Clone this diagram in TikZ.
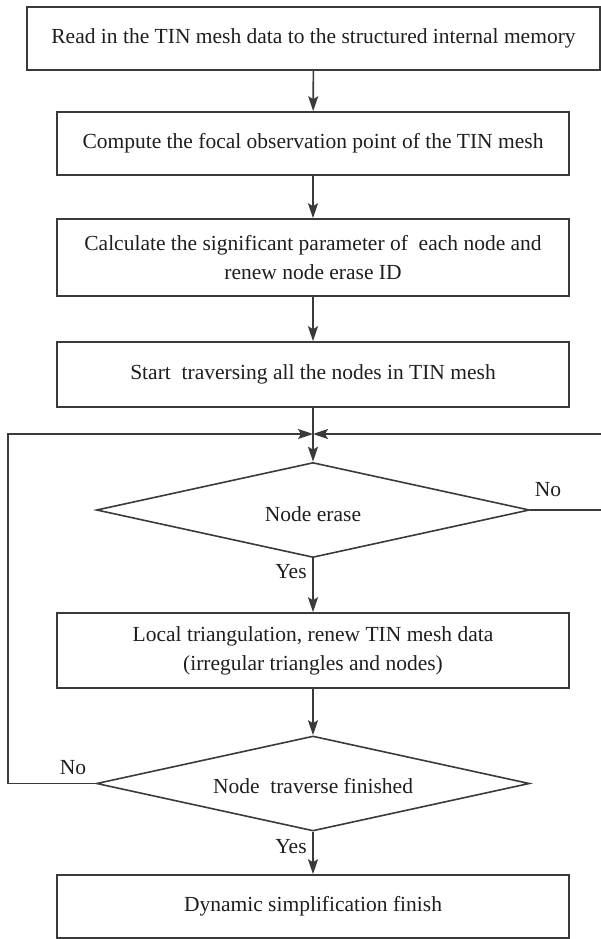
\documentclass[tikz,border=0pt]{standalone}
\usepackage{fontspec}
\setmainfont{Liberation Serif}
\usetikzlibrary{shapes.geometric,arrows.meta}
\definecolor{ink}{HTML}{3A3A3A}
\definecolor{txt}{HTML}{1E1E1E}
\begin{document}
\begin{tikzpicture}[x=1pt,y=-1pt,
  every node/.style={font=\fontsize{21.5}{29}\selectfont, text=txt},
  stepbox/.style={draw=ink, line width=1.6pt, rectangle, inner sep=0pt, align=center, minimum width=512pt},
  decision/.style={draw=ink, line width=1.6pt, diamond, aspect=4.5, inner sep=0pt,
                   minimum width=433pt, minimum height=95pt},
  flow/.style={draw=ink, line width=1.6pt, -{Stealth[length=15pt,width=10pt,inset=3pt]}},
  tag/.style={inner sep=0pt, anchor=base}]
\useasboundingbox (0,0) rectangle (601,939);

% process steps
\node[stepbox, minimum width=573pt, minimum height=63pt] (read) at (313.5,38.5)
  {Read in the TIN mesh data to the structured internal memory};
\node[stepbox, minimum height=63pt] (focal) at (313,143.5)
  {Compute the focal observation point of the TIN mesh};
\node[stepbox, minimum height=77pt] (param) at (313,257.5)
  {Calculate the significant parameter of \ each node and\\ renew node erase ID};
\node[stepbox, minimum height=65pt] (start) at (313,374.5)
  {Start \ traversing all the nodes in TIN mesh};
\node[decision] (erase) at (313,510) {};
\node at (313,514) {Node erase};
\node[stepbox, minimum height=75pt] (local) at (313,650.5)
  {Local triangulation, renew TIN mesh data\\ (irregular triangles and nodes)};
\node[decision] (done) at (313,783.5) {};
\node at (313,786) {Node \ traverse finished};
\node[stepbox, minimum height=63pt] (finish) at (313,906.5)
  {Dynamic simplification finish};

% loop-back junction
\coordinate (merge) at (313,434);
\coordinate (lft) at (8,434);
\coordinate (rgt) at (602.5,434);

% main flow
\draw[flow] (read) -- (focal);
\draw[flow] (focal) -- (param);
\draw[flow] (param) -- (start);
\draw[flow] (start) -- (erase);
\draw[flow] (erase) -- (local);
\draw[flow] (local) -- (done);
\draw[flow] (done) -- (finish);

% return branches
\draw[flow] (done.west) -| (lft) -- (merge);
\draw[flow] (erase.east) -| (rgt) -- (merge);

% branch labels
\node[tag] at (548,496) {No};
\node[tag] at (73,774) {No};
\node[tag] at (291,578) {Yes};
\node[tag] at (291,853) {Yes};
\end{tikzpicture}
\end{document}
